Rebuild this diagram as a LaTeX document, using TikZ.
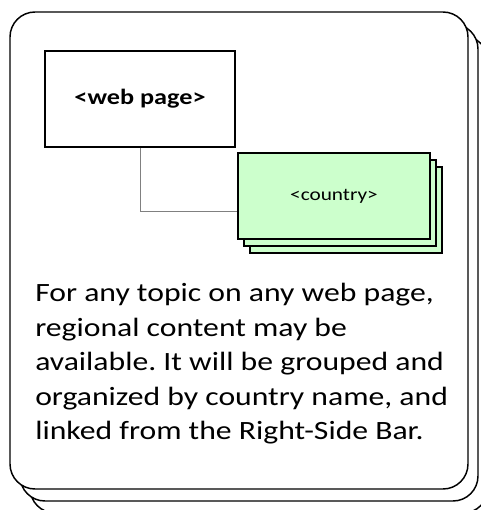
\documentclass[tikz,border=0pt]{standalone}
\usepackage{fontspec}
\setmainfont{Carlito}[FakeStretch=1.2]
\definecolor{cardgreen}{HTML}{CCFFCC}
\definecolor{linkgray}{HTML}{808080}
\frenchspacing

\begin{document}
\begin{tikzpicture}[x=0.75pt, y=-0.75pt,
      frame/.style = {draw, line width=1.1pt, fill=white, rounded corners=18.75pt},
      page/.style = {shape=rectangle, draw, line width=0.8pt, fill=white,
        minimum width=142.5pt, minimum height=72pt,
        font=\fontsize{16.4pt}{19pt}\selectfont\bfseries},
      card/.style = {shape=rectangle, draw, line width=1pt, fill=cardgreen,
        minimum width=144pt, minimum height=64.5pt,
        font=\fontsize{13.3pt}{16pt}\selectfont},
      link/.style = {draw=linkgray, line width=0.6pt}]
  \useasboundingbox (0,0) rectangle (480,510);
  \draw[frame] (30,36) rectangle (488,513);
  \draw[frame] (20,24) rectangle (478,501);
  \draw[frame] (10,12) rectangle (468,489);
  \node[page] (webpage) at (140,99) {<web page>};
  \node[card] (card3) at (346,210) {};
  \node[card] (card2) at (340,203) {};
  \node[card] (country) at (334,196) {<country>};
  \draw[link] (webpage.south) |- ([yshift=-11.25pt]country.west);
  \node[anchor=north west, align=left, inner sep=0pt,
        font=\fontsize{19.8pt}{25.9pt}\selectfont] (blurb) at (35,283)
    {For any topic on any web page,\\
     regional content may be\\
     available. It will be grouped and\\
     organized by country name, and\\
     linked from the Right-Side Bar.};
\end{tikzpicture}
\end{document}
